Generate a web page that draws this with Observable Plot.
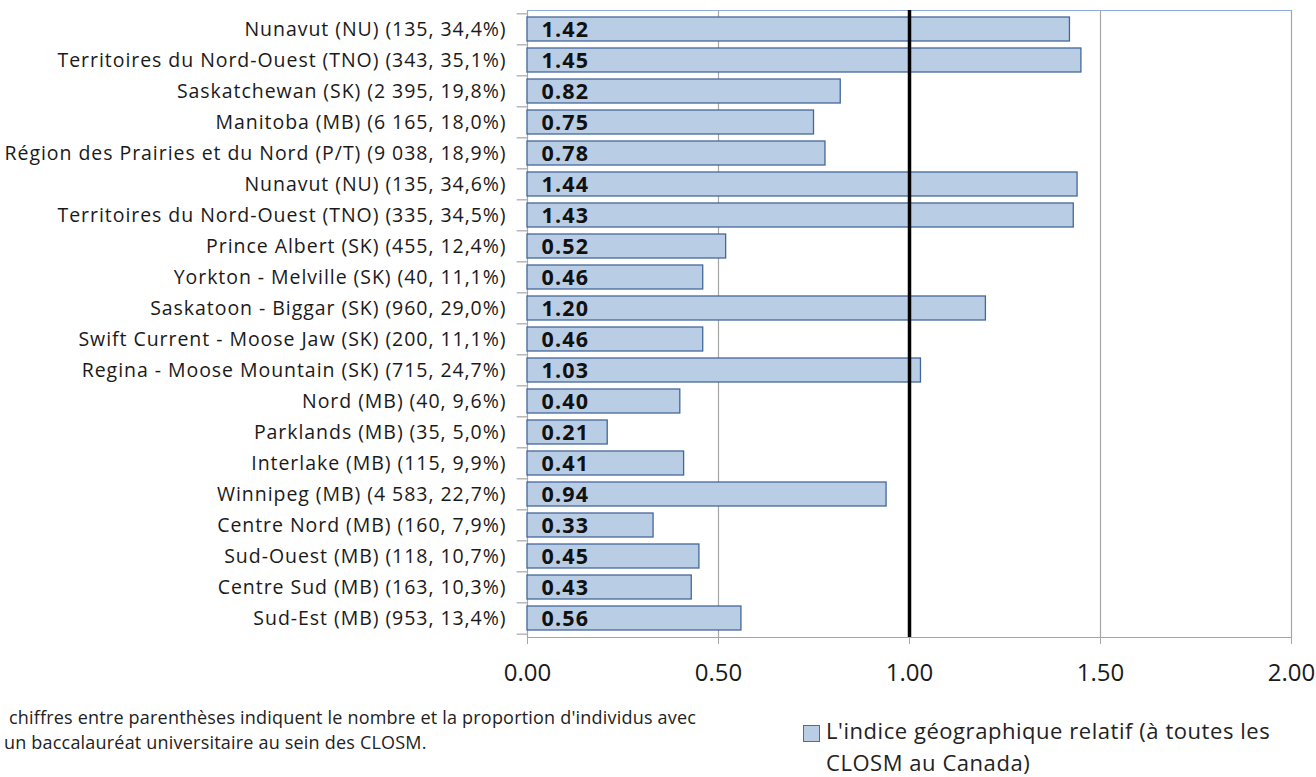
<!DOCTYPE html>
<html>
<head>
<meta charset="utf-8">
<script src="https://cdn.jsdelivr.net/npm/d3@7"></script>
<script src="https://cdn.jsdelivr.net/npm/@observablehq/plot@0.6"></script>
<style>
  html, body { margin: 0; padding: 0; background: #fff; }
  body { width: 1316px; height: 777px; position: relative; overflow: hidden; font-family: "Open Sans", Lato, sans-serif; color: #1a1a1a; }
  #chart { position: absolute; left: 0; top: 0; }
  #chart svg g[aria-label="y-axis tick label"] text { letter-spacing: 0.95px; }
  #chart svg g[aria-label="text"] text { letter-spacing: 1.2px; }
  #caption { position: absolute; left: 4px; top: 705px; font-size: 18px; line-height: 25px; white-space: pre; color: #222; letter-spacing: 0.2px; }
  #legend { position: absolute; left: 803px; top: 714px; font-size: 22px; line-height: 32px; color: #222; letter-spacing: 0.55px; }
  #legend .sw { position: absolute; left: 0; top: 11px; width: 15px; height: 15px; background: #B9CDE5; border: 1.5px solid #4A6E9F; }
  #legend .txt { position: absolute; left: 23px; top: 0; white-space: nowrap; }
</style>
</head>
<body>
<div id="chart"></div>
<div id="caption"> chiffres entre parenthèses indiquent le nombre et la proportion d'individus avec
un baccalauréat universitaire au sein des CLOSM.</div>
<div id="legend"><div class="sw"></div><div class="txt">L'indice géographique relatif (à toutes les<br>CLOSM au Canada)</div></div>
<script>
const regions = [
  "Nunavut (NU) (135, 34,4%)",
  "Territoires du Nord-Ouest (TNO) (343, 35,1%)",
  "Saskatchewan (SK) (2 395, 19,8%)",
  "Manitoba (MB) (6 165, 18,0%)",
  "Région des Prairies et du Nord (P/T) (9 038, 18,9%)",
  "Nunavut (NU) (135, 34,6%)",
  "Territoires du Nord-Ouest (TNO) (335, 34,5%)",
  "Prince Albert (SK) (455, 12,4%)",
  "Yorkton - Melville (SK) (40, 11,1%)",
  "Saskatoon - Biggar (SK) (960, 29,0%)",
  "Swift Current - Moose Jaw (SK) (200, 11,1%)",
  "Regina - Moose Mountain (SK) (715, 24,7%)",
  "Nord (MB) (40, 9,6%)",
  "Parklands (MB) (35, 5,0%)",
  "Interlake (MB) (115, 9,9%)",
  "Winnipeg (MB) (4 583, 22,7%)",
  "Centre Nord (MB) (160, 7,9%)",
  "Sud-Ouest (MB) (118, 10,7%)",
  "Centre Sud (MB) (163, 10,3%)",
  "Sud-Est (MB) (953, 13,4%)"
];
const indexValues = [1.42, 1.45, 0.82, 0.75, 0.78, 1.44, 1.43, 0.52, 0.46, 1.20, 0.46, 1.03, 0.40, 0.21, 0.41, 0.94, 0.33, 0.45, 0.43, 0.56];
const xTicks = [0, 0.5, 1, 1.5, 2];
const gridValues = [0.5, 1.5, 2];
const referenceValue = [1];

const data = regions.map((name, i) => ({name, value: indexValues[i]}));

const marginTop = 10, height = 690;
const step = (637 - marginTop) / regions.length;
const grey = "#A6A6A6";

const chart = Plot.plot({
  width: 1316,
  height,
  marginLeft: 527,
  marginRight: 25,
  marginTop,
  marginBottom: height - 637,
  style: {fontFamily: "'Open Sans', Lato, sans-serif", color: "#1a1a1a", background: "white"},
  x: {domain: [0, 2]},
  y: {domain: regions, paddingInner: 0.235, paddingOuter: 0.1175},
  marks: [
    Plot.frame({stroke: "#8FAADC", strokeWidth: 1}),
    Plot.ruleX(gridValues, {stroke: grey, strokeWidth: 1.2}),
    Plot.ruleX([0], {stroke: grey, strokeWidth: 1.2}),
    Plot.frame({anchor: "bottom", stroke: grey, strokeWidth: 1.2}),
    Plot.ruleY(data, {y: "name", x1: -0.027, x2: 0, dy: -step / 2, stroke: grey, strokeWidth: 1.2, clip: false}),
    Plot.ruleY(data.slice(-1), {y: "name", x1: -0.027, x2: 0, dy: step / 2, stroke: grey, strokeWidth: 1.2}),
    Plot.barX(data, {x: "value", y: "name", fill: "#B9CDE5", stroke: "#44679A", strokeWidth: 1.3}),
    Plot.ruleX(referenceValue, {stroke: "#000", strokeWidth: 3.5}),
    Plot.text(data, {x: 0, y: "name", text: d => d.value.toFixed(2), textAnchor: "start", dx: 14, dy: 1, fontWeight: "bold", fontSize: 21.5, fill: "#111"}),
    Plot.axisY({tickSize: 0, tickPadding: 21, fontSize: 19.5, label: null}),
    Plot.axisX({ticks: xTicks, tickFormat: d => d.toFixed(2), tickSize: 7, tickPadding: 19, fontSize: 24, stroke: grey, label: null})
  ]
});
document.getElementById("chart").appendChild(chart);
</script>
</body>
</html>
